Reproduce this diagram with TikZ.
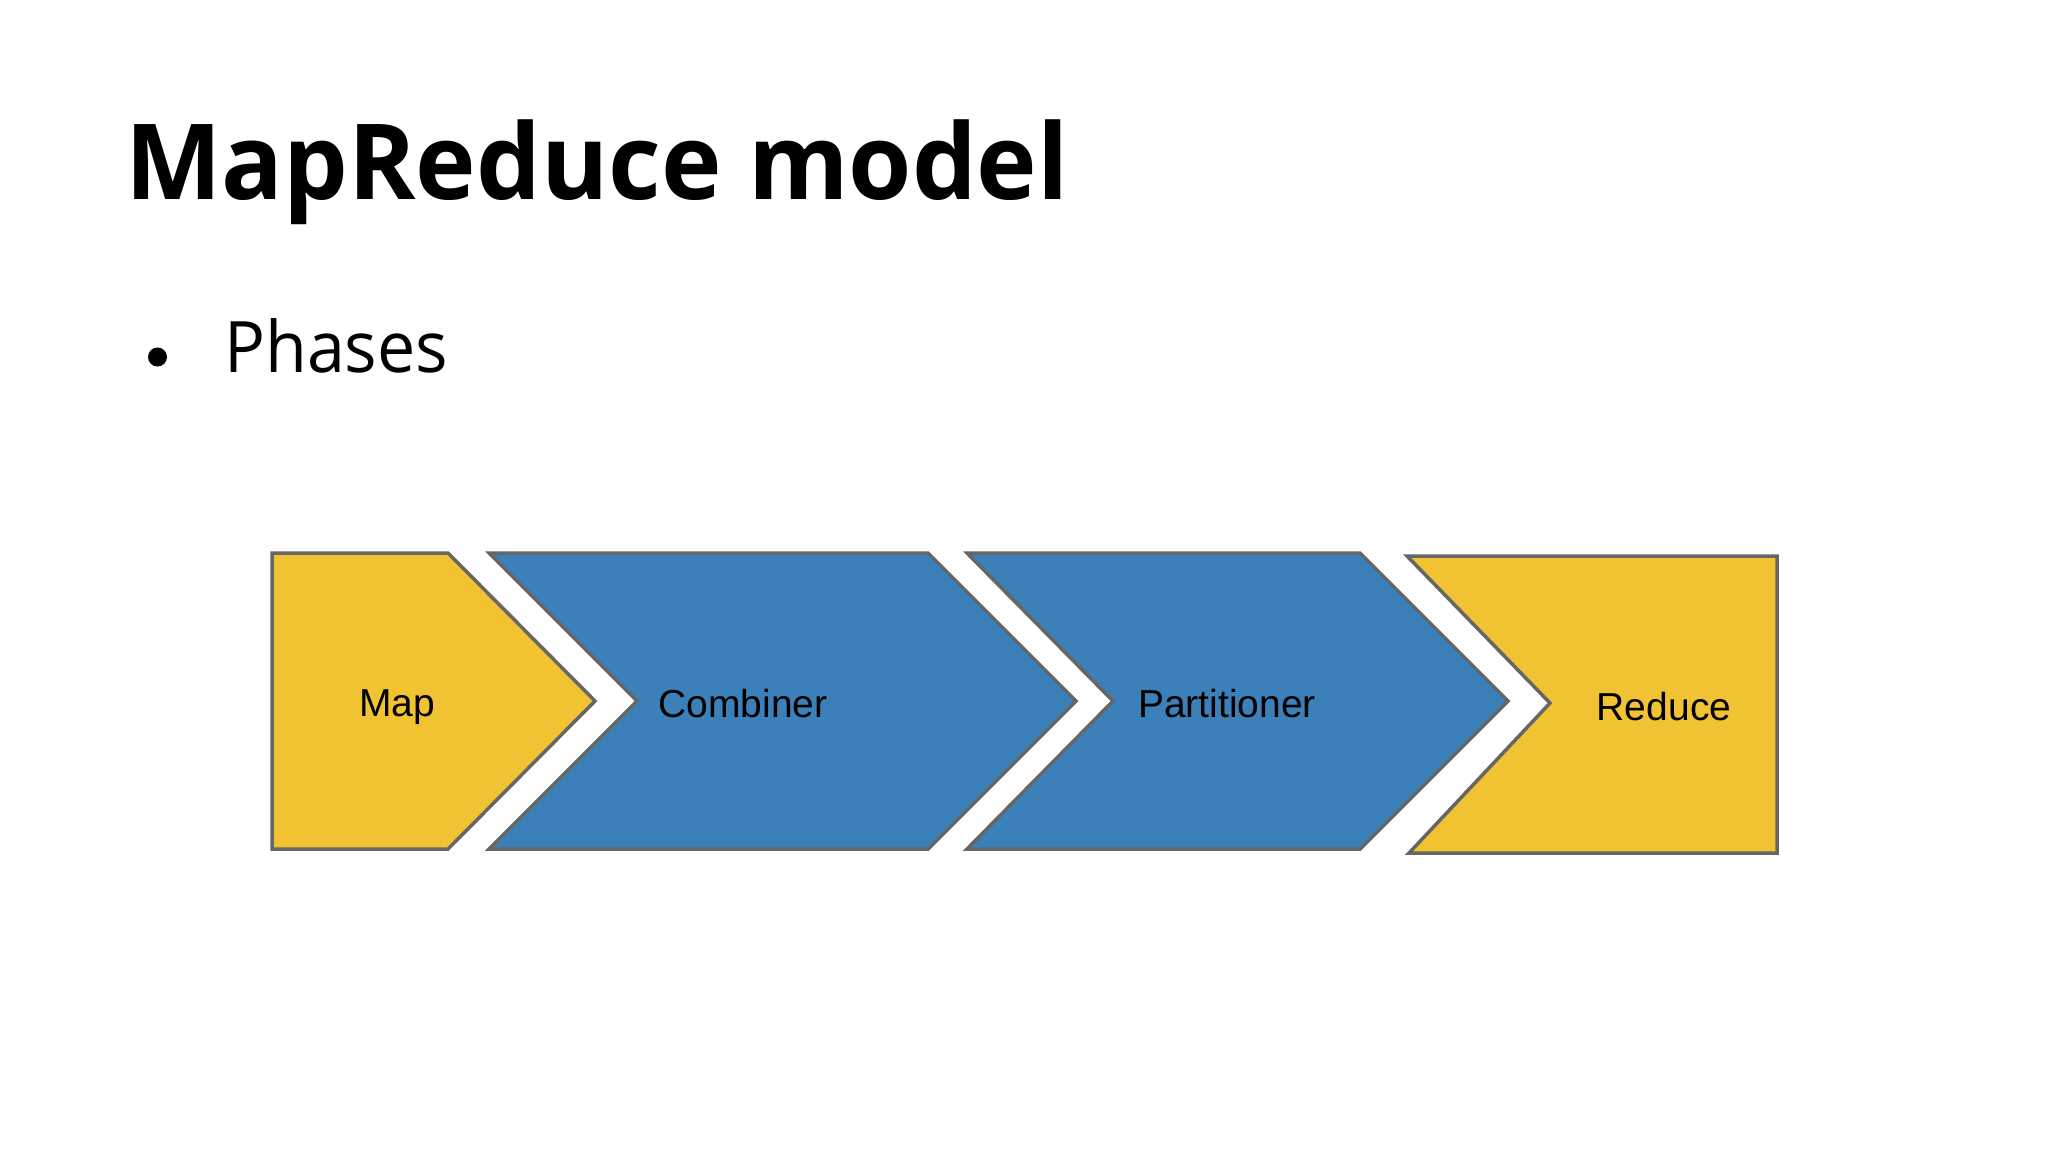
\documentclass[tikz,border=0pt]{standalone}
\usepackage{fontspec}
\setmainfont{Liberation Sans}
\newfontfamily\opensans{Open Sans}
\definecolor{phaseyellow}{HTML}{F1C232}
\definecolor{phaseblue}{HTML}{3C80BA}
\definecolor{phaseborder}{HTML}{666666}
\begin{document}
\begin{tikzpicture}[x=1pt,y=-1pt,
  yellowphase/.style={fill=phaseyellow,draw=phaseborder,line width=3.5pt,line join=miter},
  bluephase/.style={fill=phaseblue,draw=phaseborder,line width=3.5pt,line join=miter},
  phaselabel/.style={inner sep=0pt,anchor=base,font=\fontsize{39}{44}\selectfont,text=black}]
\useasboundingbox[fill=white] (0,0) rectangle (2048,1152);
% title
\node[anchor=base west,inner sep=0pt,font=\opensans\bfseries\fontsize{105}{120}\selectfont] (title) at (125,199) {\scalebox{0.975}[1]{MapReduce model}};
% bullet
\node[circle,fill=black,inner sep=0pt,minimum size=19pt] (bullet) at (157.5,357) {};
\node[anchor=base west,inner sep=0pt,font=\opensans\fontsize{71}{85}\selectfont] (phases) at (224,372) {\scalebox{0.96}[1]{Phases}};
% shapes
\draw[yellowphase] (272,553) -- (448,553) -- (595,701) -- (448,849) -- (272,849) -- cycle;
\draw[bluephase] (489,553) -- (928,553) -- (1076,701) -- (928,849) -- (489,849) -- (637,701) -- cycle;
\draw[bluephase] (967,553) -- (1360,553) -- (1508,701) -- (1360,849) -- (967,849) -- (1113,701) -- cycle;
\draw[yellowphase] (1407,556) -- (1777,556) -- (1777,853) -- (1409,853) -- (1550,703) -- cycle;
% labels
\node[phaselabel] (map) at (397,716) {Map};
\node[phaselabel] (combiner) at (743,717) {Combiner};
\node[phaselabel] (partitioner) at (1227,717) {Partitioner};
\node[phaselabel] (reduce) at (1664,720) {Reduce};
\end{tikzpicture}
\end{document}
